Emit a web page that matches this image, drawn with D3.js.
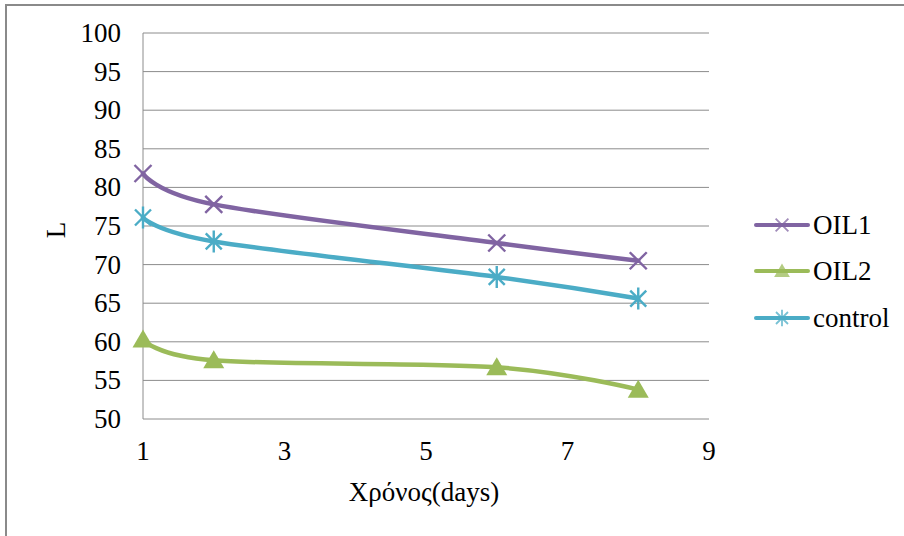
<!DOCTYPE html>
<html>
<head>
<meta charset="utf-8">
<script src="https://cdn.jsdelivr.net/npm/d3@7"></script>
<style>
  body { margin: 0; background: #fff; }
</style>
</head>
<body>
<svg id="chart" width="904" height="536"></svg>
<script>
// Values
const days = [1, 2, 6, 8];
const oil1 = [81.8, 77.8, 72.8, 70.5];
const oil2 = [60.3, 57.6, 56.7, 53.8];
const control = [76.1, 73.0, 68.4, 65.6];
const yTicks = [50, 55, 60, 65, 70, 75, 80, 85, 90, 95, 100];
const xTicks = [1, 3, 5, 7, 9];

const seriesList = [
    { name: 'OIL1', values: oil1, color: '#8064A2', marker: 'x' },
    { name: 'OIL2', values: oil2, color: '#9BBB59', marker: 'triangle' },
    { name: 'control', values: control, color: '#4BACC6', marker: 'star' }
];

const FONT = '"Liberation Serif"';
const FONT_SIZE = '27px';

const svg = d3.select('#chart');

// outer frame of the chart
svg.append('rect')
    .attr('x', 6).attr('y', 5)
    .attr('width', 920).attr('height', 560)
    .style('fill', 'none')
    .style('stroke', '#8a8a8a')
    .style('stroke-width', 2);

const x = d3.scaleLinear().domain([1, 9]).range([143, 709]);
const y = d3.scaleLinear().domain([50, 100]).range([419, 33]);

// horizontal gridlines
svg.append('g')
    .selectAll('line')
    .data(yTicks)
    .enter()
    .append('line')
    .attr('x1', x(1)).attr('x2', x(9))
    .attr('y1', d => y(d)).attr('y2', d => y(d))
    .style('stroke', '#8c8c8c')
    .style('stroke-width', 1);

// left axis line
svg.append('line')
    .attr('x1', x(1)).attr('x2', x(1))
    .attr('y1', y(100)).attr('y2', y(50))
    .style('stroke', '#8c8c8c')
    .style('stroke-width', 1);

// y tick labels
svg.append('g')
    .selectAll('text')
    .data(yTicks)
    .enter()
    .append('text')
    .attr('x', 121)
    .attr('y', d => y(d) + 9)
    .attr('text-anchor', 'end')
    .style('font-family', FONT)
    .style('font-size', FONT_SIZE)
    .text(d => d);

// x tick labels
svg.append('g')
    .selectAll('text')
    .data(xTicks)
    .enter()
    .append('text')
    .attr('x', d => x(d))
    .attr('y', 460)
    .attr('text-anchor', 'middle')
    .style('font-family', FONT)
    .style('font-size', FONT_SIZE)
    .text(d => d);

// axis titles
svg.append('text')
    .attr('x', 424)
    .attr('y', 501)
    .attr('text-anchor', 'middle')
    .style('font-family', FONT)
    .style('font-size', FONT_SIZE)
    .text('Χρόνος(days)');

svg.append('text')
    .attr('transform', 'translate(65,230) rotate(-90)')
    .attr('text-anchor', 'middle')
    .style('font-family', FONT)
    .style('font-size', FONT_SIZE)
    .text('L');

function drawMarker(g, type, color) {
    if (type === 'x') {
        g.append('path')
            .attr('d', 'M-8.5,-8.5L8.5,8.5M-8.5,8.5L8.5,-8.5')
            .style('stroke', color).style('stroke-width', 2.4).style('fill', 'none');
    } else if (type === 'star') {
        g.append('path')
            .attr('d', 'M-8,-8L8,8M-8,8L8,-8M0,-11L0,11')
            .style('stroke', color).style('stroke-width', 2.4).style('fill', 'none');
    } else {
        g.append('path')
            .attr('d', 'M0,-10L10.5,8L-10.5,8Z')
            .style('fill', color);
    }
}

const line = d3.line()
    .x(d => x(d.day))
    .y(d => y(d.value))
    .curve(d3.curveCardinal.tension(0));

seriesList.forEach(s => {
    const pts = days.map((d, i) => ({ day: d, value: s.values[i] }));

    svg.append('path')
        .datum(pts)
        .attr('d', line)
        .style('fill', 'none')
        .style('stroke', s.color)
        .style('stroke-width', 4.5)
        .style('stroke-linecap', 'round');

    pts.forEach(p => {
        const g = svg.append('g')
            .attr('transform', `translate(${x(p.day)},${y(p.value)})`);
        drawMarker(g, s.marker, s.color);
    });
});

// legend
const legend = svg.append('g');
const legendY = [225, 271, 318];
seriesList.forEach((s, i) => {
    const row = legend.append('g')
        .attr('transform', `translate(756,${legendY[i]})`);
    row.append('line')
        .attr('x1', 0).attr('x2', 52)
        .style('stroke', s.color)
        .style('stroke-width', 4)
        .style('stroke-linecap', 'round');
    const m = row.append('g')
        .attr('transform', 'translate(26,0) scale(0.75)')
        .style('opacity', 0.75);
    drawMarker(m, s.marker, s.color);
    row.append('text')
        .attr('x', 57)
        .attr('y', 9)
        .style('font-family', FONT)
        .style('font-size', FONT_SIZE)
        .text(s.name);
});
</script>
</body>
</html>
